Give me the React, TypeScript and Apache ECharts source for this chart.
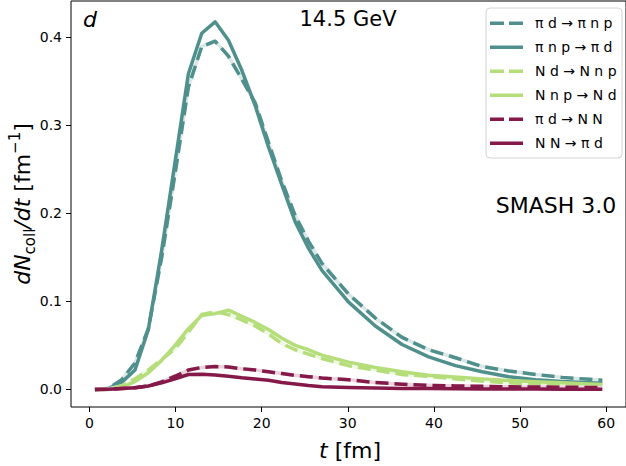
import React, { useEffect, useRef } from "react";
import * as echarts from "echarts";

const FONT = '"DejaVu Sans", Verdana, sans-serif';

// time grid (fm)
const T = [0.65, 2.2, 3.75, 5.3, 6.85, 8.4, 9.95, 11.5, 13.05, 14.6, 16.15, 17.7, 19.25, 20.8, 22.35, 23.9, 25.45, 27.0, 30.1, 33.2, 36.3, 39.4, 42.5, 45.6, 48.7, 51.8, 54.9, 58.0, 59.55];

const piD_piNP = [0, 0.001, 0.011, 0.03, 0.069, 0.15, 0.245, 0.343, 0.389, 0.395, 0.378, 0.352, 0.325, 0.28, 0.236, 0.197, 0.168, 0.143, 0.108, 0.081, 0.059, 0.045, 0.036, 0.026, 0.021, 0.017, 0.0137, 0.0115, 0.0105];
const piNP_piD = [0, 0.001, 0.008, 0.022, 0.068, 0.158, 0.258, 0.358, 0.404, 0.417, 0.396, 0.362, 0.322, 0.275, 0.232, 0.19, 0.16, 0.135, 0.099, 0.072, 0.051, 0.037, 0.027, 0.02, 0.0145, 0.011, 0.009, 0.0075, 0.007];
const Nd_NNP = [0, 0.0005, 0.004, 0.012, 0.022, 0.034, 0.046, 0.065, 0.085, 0.088, 0.085, 0.079, 0.072, 0.063, 0.052, 0.045, 0.04, 0.035, 0.027, 0.022, 0.017, 0.015, 0.012, 0.0095, 0.0075, 0.006, 0.005, 0.0043, 0.004];
const NNP_Nd = [0, 0, 0.002, 0.009, 0.019, 0.033, 0.05, 0.069, 0.084, 0.086, 0.09, 0.083, 0.076, 0.068, 0.058, 0.05, 0.045, 0.039, 0.031, 0.025, 0.02, 0.016, 0.014, 0.012, 0.0102, 0.0088, 0.0075, 0.0062, 0.0057];
const piD_NN = [0, 0.0003, 0.001, 0.002, 0.004, 0.0085, 0.015, 0.022, 0.025, 0.026, 0.0255, 0.0235, 0.022, 0.02, 0.018, 0.016, 0.0145, 0.013, 0.011, 0.0078, 0.006, 0.0047, 0.004, 0.0035, 0.003, 0.0028, 0.0025, 0.0023, 0.0023];
const NN_piD = [0, 0.0003, 0.001, 0.002, 0.004, 0.0075, 0.012, 0.017, 0.0172, 0.0165, 0.015, 0.0132, 0.0118, 0.0105, 0.008, 0.0062, 0.0045, 0.0032, 0.0022, 0.0016, 0.0012, 0.001, 0.0008, 0.0006, 0.0005, 0.0004, 0.0003, 0.0002, 0.0002];

const X_TICKS = [0, 10, 20, 30, 40, 50, 60];
const Y_TICKS = [0, 0.1, 0.2, 0.3, 0.4];

const TEAL = "#4f8f8c";
const GREEN = "#b5dd7a";
const MAROON = "#85194a";

const SERIES = [
  { name: "π d → π n p", values: piD_piNP, color: TEAL, gap: "#d9e8e7", dashed: true },
  { name: "π n p → π d", values: piNP_piD, color: TEAL, gap: "", dashed: false },
  { name: "N d → N n p", values: Nd_NNP, color: GREEN, gap: "#eff8e4", dashed: true },
  { name: "N n p → N d", values: NNP_Nd, color: GREEN, gap: "", dashed: false },
  { name: "π d → N N", values: piD_NN, color: MAROON, gap: "#e8d2dc", dashed: true },
  { name: "N N → π d", values: NN_piD, color: MAROON, gap: "", dashed: false },
];

export default function App() {
  const ref = useRef<HTMLDivElement>(null);
  useEffect(() => {
    if (!ref.current) return;
    const chart = echarts.init(ref.current, undefined, { renderer: "svg" });
    const LW = 3.5;
    const series: any[] = [];
    SERIES.forEach((s) => {
      const data = T.map((t, i) => [t, s.values[i]]);
      if (s.dashed) {
        series.push({
          type: "line",
          data,
          showSymbol: false,
          silent: true,
          lineStyle: { color: s.gap, width: LW, type: "solid", join: "round" },
        });
      }
      series.push({
        type: "line",
        name: s.name,
        data,
        showSymbol: false,
        lineStyle: { color: s.color, width: LW, type: s.dashed ? [13, 6] : "solid", join: "round" },
      });
    });

    const graphic: any[] = [];
    graphic.push({
      type: "rect",
      shape: { x: 486, y: 8, width: 136, height: 150, r: 4 },
      style: { fill: "rgba(255,255,255,0.8)", stroke: "#d4d4d4", lineWidth: 1 },
      z: 100,
    });
    SERIES.forEach((s, i) => {
      const y = 23.3 + 24 * i;
      graphic.push({
        type: "line",
        shape: { x1: 490, y1: y, x2: 523, y2: y },
        style: { stroke: s.color, lineWidth: LW, lineDash: s.dashed ? [14, 5] : null },
        z: 101,
      });
      graphic.push({
        type: "text",
        x: 535,
        y: y,
        style: { text: s.name, font: `14px ${FONT}`, fill: "#000", align: "left", verticalAlign: "middle" },
        z: 101,
      });
    });
    graphic.push({
      type: "text",
      x: 90,
      y: 19,
      style: { text: "d", font: `italic 22px ${FONT}`, fill: "#000", align: "center", verticalAlign: "middle" },
    });
    graphic.push({
      type: "text",
      x: 348,
      y: 19,
      style: { text: "14.5 GeV", font: `21px ${FONT}`, fill: "#000", align: "center", verticalAlign: "middle" },
    });
    graphic.push({
      type: "text",
      x: 556,
      y: 205,
      style: { text: "SMASH 3.0", font: `22px ${FONT}`, fill: "#000", align: "center", verticalAlign: "middle" },
    });
    graphic.push({
      type: "text",
      x: 350,
      y: 450,
      style: {
        text: "{i|t} [fm]",
        font: `22px ${FONT}`,
        fill: "#000",
        align: "center",
        verticalAlign: "middle",
        rich: { i: { fontStyle: "italic", fontSize: 22, fontFamily: FONT } },
      },
    });
    graphic.push({
      type: "text",
      x: 22,
      y: 204,
      rotation: Math.PI / 2,
      style: {
        text: "{i|dN}{s|coll}{i|/dt}{n| [fm}{p|−1}{n|]}",
        fill: "#000",
        align: "center",
        verticalAlign: "middle",
        rich: {
          i: { fontStyle: "italic", fontSize: 22, fontFamily: FONT, lineHeight: 30, verticalAlign: "middle" },
          n: { fontSize: 22, fontFamily: FONT, lineHeight: 30, verticalAlign: "middle" },
          s: { fontSize: 15, fontFamily: FONT, lineHeight: 15, verticalAlign: "bottom" },
          p: { fontSize: 15, fontFamily: FONT, lineHeight: 15, verticalAlign: "top" },
        },
      },
    });

    chart.setOption({
      animation: false,
      backgroundColor: "#fff",
      grid: { left: 71, top: 1, right: -5, bottom: 59, show: true, borderColor: "#000", borderWidth: 1, backgroundColor: "transparent" },
      xAxis: {
        type: "value",
        min: -2.13,
        max: 62.3,
        axisLine: { show: false, onZero: false },
        splitLine: { show: false },
        axisTick: { show: true, length: 5, inside: false, customValues: X_TICKS, lineStyle: { color: "#000", width: 1 } },
        axisLabel: { customValues: X_TICKS, color: "#000", fontSize: 14, fontFamily: FONT, margin: 9 },
      },
      yAxis: {
        type: "value",
        min: -0.0199,
        max: 0.4406,
        axisLine: { show: false, onZero: false },
        splitLine: { show: false },
        axisTick: { show: true, length: 5, inside: false, customValues: Y_TICKS, lineStyle: { color: "#000", width: 1 } },
        axisLabel: { customValues: Y_TICKS, color: "#000", fontSize: 14, fontFamily: FONT, margin: 9, formatter: (v: number) => v.toFixed(1) },
      },
      series,
      graphic,
    });
    return () => chart.dispose();
  }, []);
  return <div ref={ref} style={{ position: "absolute", left: 0, top: 0, width: 626, height: 466 }} />;
}
